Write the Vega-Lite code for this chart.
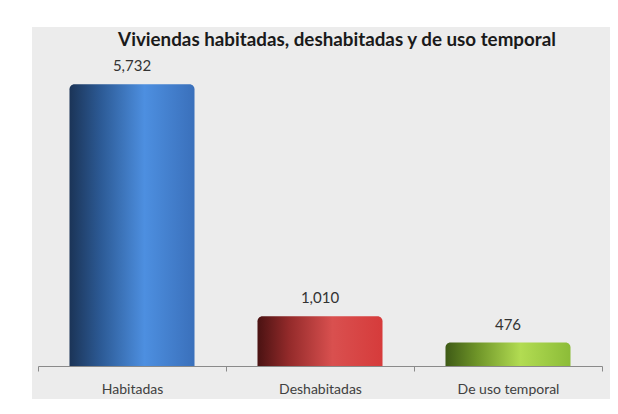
{
  "$schema": "https://vega.github.io/schema/vega-lite/v6.json",
  "width": 578,
  "height": 372,
  "autosize": "none",
  "padding": {"left": 32, "top": 27, "right": 8, "bottom": 15},
  "background": "white",
  "config": {
    "view": {"fill": "#ececec", "stroke": null},
    "font": "Lato"
  },
  "data": {
    "values": [
      {"tipo": "Habitadas", "viviendas": 5732},
      {"tipo": "Deshabitadas", "viviendas": 1010},
      {"tipo": "De uso temporal", "viviendas": 476}
    ]
  },
  "encoding": {
    "x": {
      "field": "tipo",
      "type": "nominal",
      "sort": null,
      "scale": {"range": [6, 570], "paddingInner": 0, "paddingOuter": 0},
      "axis": {
        "title": null,
        "offset": -33,
        "labelAngle": 0,
        "labelFont": "Lato",
        "labelFontSize": 14,
        "labelColor": "#404040",
        "labelPadding": 11,
        "domainColor": "#8a8a8a",
        "tickColor": "#8a8a8a",
        "tickBand": "extent",
        "tickSize": 5,
        "domainWidth": 1.2
      }
    },
    "y": {
      "field": "viviendas",
      "type": "quantitative",
      "scale": {"domain": [-671, 6894], "nice": false, "zero": false},
      "axis": null
    },
    "y2": {"datum": 0}
  },
  "layer": [
    {
      "transform": [{"filter": "datum.tipo === 'Habitadas'"}],
      "mark": {
        "type": "bar",
        "width": {"band": 0.665},
        "cornerRadiusTopLeft": 5,
        "cornerRadiusTopRight": 5,
        "color": {
          "gradient": "linear", "x1": 0, "x2": 1, "y1": 0, "y2": 0,
          "stops": [
            {"offset": 0, "color": "#1b3457"},
            {"offset": 0.25, "color": "#2c5a95"},
            {"offset": 0.6, "color": "#4d8fe0"},
            {"offset": 1, "color": "#3a70bb"}
          ]
        }
      }
    },
    {
      "transform": [{"filter": "datum.tipo === 'Deshabitadas'"}],
      "mark": {
        "type": "bar",
        "width": {"band": 0.665},
        "cornerRadiusTopLeft": 5,
        "cornerRadiusTopRight": 5,
        "color": {
          "gradient": "linear", "x1": 0, "x2": 1, "y1": 0, "y2": 0,
          "stops": [
            {"offset": 0, "color": "#4a1212"},
            {"offset": 0.25, "color": "#932a2a"},
            {"offset": 0.6, "color": "#d9504f"},
            {"offset": 1, "color": "#d63b3b"}
          ]
        }
      }
    },
    {
      "transform": [{"filter": "datum.tipo === 'De uso temporal'"}],
      "mark": {
        "type": "bar",
        "width": {"band": 0.665},
        "cornerRadiusTopLeft": 5,
        "cornerRadiusTopRight": 5,
        "color": {
          "gradient": "linear", "x1": 0, "x2": 1, "y1": 0, "y2": 0,
          "stops": [
            {"offset": 0, "color": "#3e5a16"},
            {"offset": 0.25, "color": "#6e9428"},
            {"offset": 0.6, "color": "#b2dc52"},
            {"offset": 1, "color": "#8cbc38"}
          ]
        }
      }
    },
    {
      "mark": {
        "type": "text",
        "baseline": "alphabetic",
        "dy": -13,
        "font": "Lato",
        "fontSize": 15,
        "color": "#333333"
      },
      "encoding": {
        "y2": null,
        "text": {"field": "viviendas", "type": "quantitative", "format": ","}
      }
    },
    {
      "data": {"values": [{"titulo": "Viviendas habitadas, deshabitadas y de uso temporal", "centro": "Deshabitadas", "tope": 6894}]},
      "mark": {
        "type": "text",
        "baseline": "alphabetic",
        "align": "center",
        "dx": 17,
        "dy": 19,
        "font": "Lato",
        "fontSize": 18.8,
        "fontWeight": "bold",
        "color": "#1a1a1a"
      },
      "encoding": {
        "x": {"field": "centro", "type": "nominal", "sort": null},
        "y": {"field": "tope", "type": "quantitative"},
        "y2": null,
        "text": {"field": "titulo", "type": "nominal"}
      }
    }
  ]
}
